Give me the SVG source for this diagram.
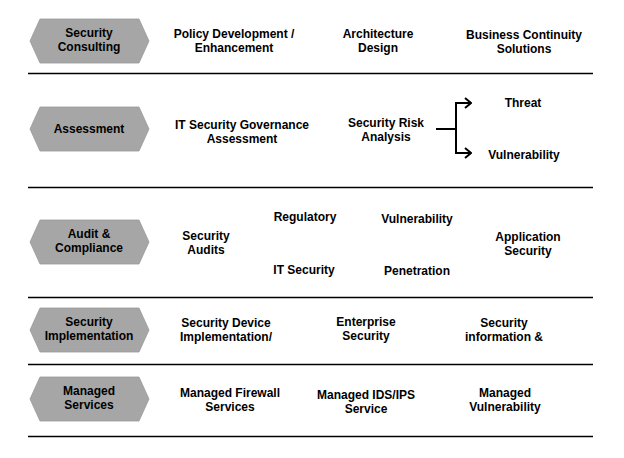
<svg xmlns="http://www.w3.org/2000/svg" width="624" height="458" viewBox="0 0 624 458">
<defs>
<style>
.hex{fill:#a6a6a6;stroke:#9a9a9a;stroke-width:0.8}
text{font-family:"Liberation Sans",Arial,sans-serif;font-weight:bold;font-size:12px;fill:#000;text-anchor:middle}
.rule{stroke:#000;stroke-width:1.5;fill:none}
.conn{stroke:#000;stroke-width:2;fill:none}
</style>
<marker id="chev" viewBox="0 0 10 12" refX="9" refY="6" markerWidth="10" markerHeight="12" markerUnits="userSpaceOnUse" orient="auto">
<path d="M3,1 L9,6 L3,11" fill="none" stroke="#000" stroke-width="2"/>
</marker>
</defs>
<rect width="624" height="458" fill="#fff"/>
<g id="rules">
<line class="rule" x1="28" y1="73.5" x2="593" y2="73.5"/>
<line class="rule" x1="28" y1="187.5" x2="593" y2="187.5"/>
<line class="rule" x1="28" y1="297.5" x2="593" y2="297.5"/>
<line class="rule" x1="28" y1="364.5" x2="593" y2="364.5"/>
<line class="rule" x1="28" y1="436.5" x2="593" y2="436.5"/>
</g>
<g id="security-consulting">
<polygon class="hex" points="30,41 40,19 139,19 149,41 139,63 40,63"/>
<text x="89" y="37">Security</text>
<text x="89" y="51">Consulting</text>
</g>
<g id="policy-development"><text x="234" y="38">Policy Development /</text><text x="234" y="52">Enhancement</text></g>
<g id="architecture-design"><text x="378" y="38">Architecture</text><text x="378" y="52">Design</text></g>
<g id="business-continuity"><text x="524" y="39">Business Continuity</text><text x="524" y="53">Solutions</text></g>

<g id="assessment">
<polygon class="hex" points="30,129 40,107 139,107 149,129 139,151 40,151"/>
<text x="89" y="133">Assessment</text>
</g>
<g id="it-governance"><text x="242" y="129">IT Security Governance</text><text x="242" y="143">Assessment</text></g>
<g id="risk-analysis"><text x="386" y="127">Security Risk</text><text x="386" y="141">Analysis</text></g>
<g id="threat"><text x="523" y="107">Threat</text></g>
<g id="vulnerability-a"><text x="524" y="159">Vulnerability</text></g>

<g id="audit-compliance">
<polygon class="hex" points="30,242 40,220 139,220 149,242 139,264 40,264"/>
<text x="89" y="238">Audit &amp;</text>
<text x="89" y="252">Compliance</text>
</g>
<g id="security-audits"><text x="206" y="240">Security</text><text x="206" y="254">Audits</text></g>
<g id="regulatory"><text x="305" y="221">Regulatory</text></g>
<g id="vulnerability-b"><text x="417" y="223">Vulnerability</text></g>
<g id="it-security"><text x="304" y="274">IT Security</text></g>
<g id="penetration"><text x="417" y="275">Penetration</text></g>
<g id="application-security"><text x="528" y="241">Application</text><text x="528" y="255">Security</text></g>

<g id="security-implementation">
<polygon class="hex" points="30,330 40,308 139,308 149,330 139,352 40,352"/>
<text x="89" y="326">Security</text>
<text x="89" y="340">Implementation</text>
</g>
<g id="device-implementation"><text x="226" y="327">Security Device</text><text x="226" y="341">Implementation/</text></g>
<g id="enterprise-security"><text x="366" y="326">Enterprise</text><text x="366" y="340">Security</text></g>
<g id="security-information"><text x="504" y="327">Security</text><text x="504" y="341">information &amp;</text></g>

<g id="managed-services">
<polygon class="hex" points="30,399 40,377 139,377 149,399 139,421 40,421"/>
<text x="89" y="395">Managed</text>
<text x="89" y="409">Services</text>
</g>
<g id="managed-firewall"><text x="230" y="397">Managed Firewall</text><text x="230" y="411">Services</text></g>
<g id="managed-ids"><text x="366" y="399">Managed IDS/IPS</text><text x="366" y="413">Service</text></g>
<g id="managed-vulnerability"><text x="505" y="397">Managed</text><text x="505" y="411">Vulnerability</text></g>

<g id="connectors">
<line class="conn" x1="436" y1="129" x2="456" y2="129"/>
<line class="conn" x1="456" y1="102" x2="456" y2="154"/>
<line class="conn" x1="455" y1="103" x2="471" y2="103" marker-end="url(#chev)"/>
<line class="conn" x1="455" y1="153" x2="471" y2="153" marker-end="url(#chev)"/>
</g>
</svg>
